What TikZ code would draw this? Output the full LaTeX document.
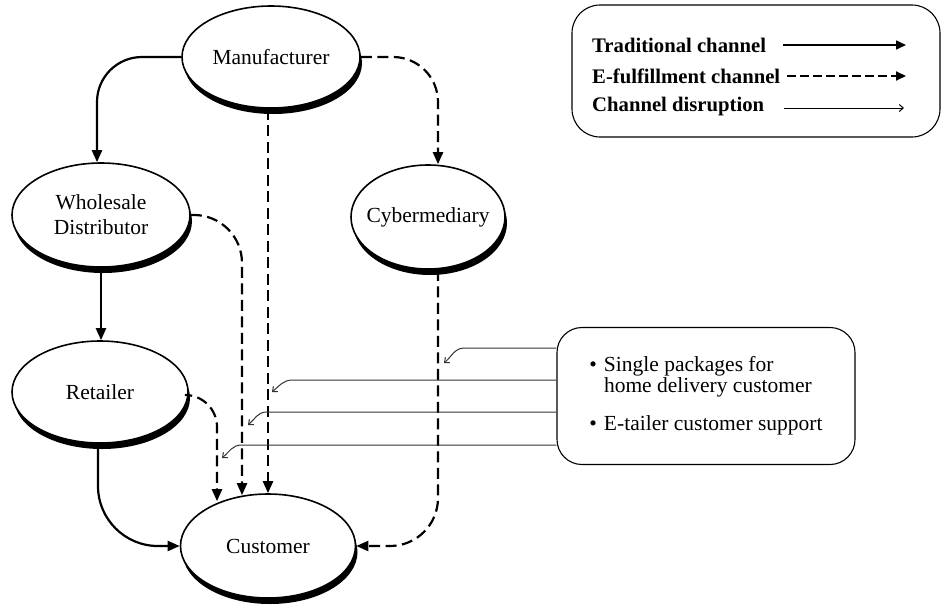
\documentclass[tikz,border=0pt]{standalone}
\usepackage{fontspec}
\setmainfont{Liberation Serif}
\usetikzlibrary{shapes.geometric,arrows.meta,shadows,calc}
\begin{document}
\begin{tikzpicture}[x=1pt,y=-1pt,font=\fontsize{21.5}{25}\selectfont,
  ent/.style={ellipse, draw, line width=1.6pt, fill=white, inner sep=0pt, align=center,
    drop shadow={shadow xshift=2pt, shadow yshift=-6pt, fill=black, opacity=1}},
  trad/.style={line width=2.2pt, -{Triangle[length=12pt,width=10pt]}, rounded corners=30pt},
  ef/.style={trad, dash pattern=on 11pt off 5.5pt},
  disr/.style={line width=1pt, black!80, -{Straight Barb[length=4pt,width=7pt]}},
  box/.style={draw, line width=1.1pt},
  legtext/.style={anchor=west, font=\fontsize{20.7}{25}\selectfont\bfseries, inner sep=0pt}]
\useasboundingbox (0,0) rectangle (945,611);

% entities
\node[ent, minimum width=178pt, minimum height=102pt] (M) at (271,57) {Manufacturer};
\node[ent, minimum width=178pt, minimum height=104pt] (W) at (101,215) {Wholesale\\Distributor};
\node[ent, minimum width=176pt, minimum height=102pt] (R) at (100,392) {Retailer};
\node[ent, minimum width=154pt, minimum height=104pt] (Cy) at (428,217) {\makebox[0pt]{Cybermediary}};
\node[ent, minimum width=175pt, minimum height=104pt] (Cu) at (268,546) {Customer};

% channels
\draw[trad, rounded corners=45pt] (M.west) -| ([xshift=-4pt]W.north);
\draw[ef, rounded corners=45pt] (M.east) -| ([xshift=10pt]Cy.north);
\draw[ef] (M.south -| Cu.north) -- (Cu.north);
\draw[trad] (W.south) -- (W.south |- R.north);
\draw[ef, rounded corners=48pt] (W.east) -| ([xshift=-26pt,yshift=-2pt]Cu.north);
\draw[ef, rounded corners=32pt] ([yshift=-3pt]R.east) -| ([xshift=-51pt,yshift=-8pt]Cu.north);
\draw[trad, rounded corners=60pt] ([xshift=-2pt]R.south) |- (Cu.west);
\draw[ef, rounded corners=48pt] ([xshift=10pt]Cy.south) |- (Cu.east);

% info box
\node[box, rounded corners=25pt, minimum width=298pt, minimum height=137pt] (B) at (706,396)
  {\begin{tabular}{@{}l@{\hspace{7pt}}l@{}}
   \textbullet & Single packages for\\[-4pt]
               & home delivery customer\\[13pt]
   \textbullet & E-tailer customer support
   \end{tabular}};

% disruption arrows
\coordinate (d1) at (444,363);
\coordinate (d2) at (272,392);
\coordinate (d3) at (248,425);
\coordinate (d4) at (222,458);
\draw[disr] ([yshift=48pt]B.west) -- ++(-92,0) to[out=180,in=40] (d1);
\draw[disr] ([yshift=16pt]B.west) -- ++(-264,0) to[out=180,in=40] (d2);
\draw[disr] ([yshift=-16pt]B.west) -- ++(-290,0) to[out=180,in=40] (d3);
\draw[disr] ([yshift=-49pt]B.west) -- ++(-315,0) to[out=180,in=40] (d4);

% legend
\node[box, rounded corners=28pt, minimum width=368pt, minimum height=132pt] (L) at (756,71) {};
\node[legtext] (t1) at (592,45) {Traditional channel};
\node[legtext] (t2) at (592,76) {E-fulfillment channel};
\node[legtext] (t3) at (592,107) {Channel disruption};
\coordinate (a1s) at (783,45); \coordinate (a1e) at (906,45);
\coordinate (a2s) at (787,76); \coordinate (a2e) at (906,76);
\coordinate (a3s) at (784,108); \coordinate (a3e) at (904,108);
\draw[line width=1.6pt, -{Triangle[length=10pt,width=9pt]}] (a1s) -- (a1e);
\draw[line width=1.8pt, dash pattern=on 9pt off 4pt, -{Triangle[length=10pt,width=9pt]}] (a2s) -- (a2e);
\draw[disr, black] (a3s) -- (a3e);
\end{tikzpicture}
\end{document}
